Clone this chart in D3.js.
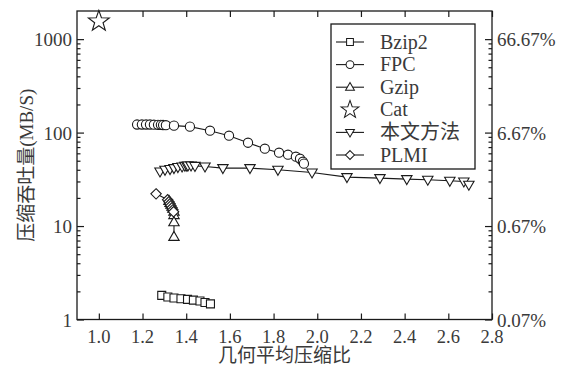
<!DOCTYPE html>
<html><head><meta charset="utf-8">
<script src="https://cdn.jsdelivr.net/npm/d3@7"></script>
<style>body{margin:0;background:#fff}svg{display:block}</style>
</head><body><svg id="c" width="569" height="366"></svg>
<script>
// ---- data ----
const xTickValues = [1.0,1.2,1.4,1.6,1.8,2.0,2.2,2.4,2.6,2.8];
const xTickLabels = ["1.0","1.2","1.4","1.6","1.8","2.0","2.2","2.4","2.6","2.8"];
const yTickValues = [1,10,100,1000];
const yTickLabels = ["1","10","100","1000"];
const rightTickLabels = ["0.07%","0.67%","6.67%","66.67%"];
const seriesNames = ["Bzip2","FPC","Gzip","Cat","本文方法","PLMI"];

const bzip2 = [[1.288,1.81],[1.316,1.74],[1.344,1.70],[1.376,1.67],[1.406,1.64],[1.433,1.61],[1.463,1.58],[1.486,1.52],[1.511,1.47]];
const fpc = [[1.175,122],[1.197,122],[1.216,122],[1.234,122],[1.252,121.5],[1.271,121],[1.284,121],[1.294,120.5],[1.307,120],[1.344,118.6],[1.417,115.7],[1.509,104.8],[1.596,92.6],[1.683,77.9],[1.760,67.2],[1.825,60.9],[1.866,58],[1.902,55.2],[1.921,52.5],[1.934,48.8],[1.939,46.5]];
const gzip = [[1.321,18.6],[1.326,17.7],[1.330,16.9],[1.335,16.1],[1.339,15.3],[1.344,14.2],[1.344,13.1],[1.344,11.0],[1.344,7.65]];
const cat = [[1.0,1550]];
const ours = [[1.28,38.4],[1.303,40.0],[1.326,40.7],[1.344,41.7],[1.362,42.8],[1.381,43.4],[1.394,44.2],[1.403,44.2],[1.408,44.5],[1.422,44.5],[1.44,44.0],[1.486,43.4],[1.568,41.7],[1.692,41.7],[1.82,40.0],[1.976,37.4],[2.136,33.4],[2.287,32.6],[2.41,31.8],[2.506,31.3],[2.607,30.5],[2.671,30.0],[2.694,27.7]];
const plmi = [[1.262,22.1],[1.315,19.1],[1.321,18.2],[1.326,17.3],[1.330,16.5],[1.335,15.7],[1.339,14.9],[1.342,14.2]];

// ---- layout ----
const L=77, R=492, T=11, B=319.5;
const svg = d3.select("#c");
const x = d3.scaleLinear().domain([0.9,2.8]).range([L,R]);
const y = d3.scaleLog().domain([1,2000]).range([B,T]);
const ink = "#1a1a1a", txt = "#3a3a3a";
const font = "'Liberation Serif','Noto Sans CJK SC',serif";

// frame
svg.append("rect").attr("x",L).attr("y",T).attr("width",R-L).attr("height",B-T)
  .attr("fill","none").attr("stroke",ink).attr("stroke-width",1.3);

// minor ticks
const minor = [];
for (let d=1; d<=1000; d*=10) for (let k=2;k<=9;k++){ const v=d*k; if (v<2000) minor.push(v); }

// left axis
svg.append("g").attr("transform",`translate(${L},0)`)
  .call(d3.axisRight(y).tickValues(yTickValues).tickSize(7).tickFormat(""));
svg.append("g").attr("transform",`translate(${L},0)`)
  .call(d3.axisRight(y).tickValues(minor).tickSize(3.5).tickFormat(""));
// right axis
svg.append("g").attr("transform",`translate(${R},0)`)
  .call(d3.axisLeft(y).tickValues(yTickValues).tickSize(7).tickFormat(""));
svg.append("g").attr("transform",`translate(${R},0)`)
  .call(d3.axisLeft(y).tickValues(minor).tickSize(3.5).tickFormat(""));
// bottom / top axes
svg.append("g").attr("transform",`translate(0,${B})`)
  .call(d3.axisTop(x).tickValues(xTickValues).tickSize(6).tickFormat(""));
svg.append("g").attr("transform",`translate(0,${T})`)
  .call(d3.axisBottom(x).tickValues(xTickValues).tickSize(6).tickFormat(""));
svg.selectAll(".domain").remove();
svg.selectAll(".tick line").attr("stroke",ink).attr("stroke-width",1.2);

// tick labels
svg.append("g").selectAll("text").data(yTickValues).join("text")
  .attr("x",L-5).attr("y",d=>y(d)+7).attr("text-anchor","end")
  .attr("font-family",font).attr("font-size",19).attr("fill",txt)
  .text((d,i)=>yTickLabels[i]);
svg.append("g").selectAll("text").data(yTickValues).join("text")
  .attr("x",R+5).attr("y",d=>y(d)+7).attr("text-anchor","start")
  .attr("font-family",font).attr("font-size",19).attr("fill",txt)
  .text((d,i)=>rightTickLabels[i]);
svg.append("g").selectAll("text").data(xTickValues).join("text")
  .attr("x",d=>x(d)).attr("y",B+23).attr("text-anchor","middle")
  .attr("font-family",font).attr("font-size",18.5).attr("fill",txt)
  .text((d,i)=>xTickLabels[i]);

// axis titles
svg.append("text").attr("x",(L+R)/2).attr("y",362).attr("text-anchor","middle")
  .attr("font-family",font).attr("font-size",19).attr("fill",txt).text("几何平均压缩比");
svg.append("text").attr("transform",`translate(33,${(T+B)/2}) rotate(-90)`)
  .attr("text-anchor","middle")
  .attr("font-family",font).attr("font-size",19).attr("fill",txt).text("压缩吞吐量(MB/S)");

// marker paths
function starPath(ro, ri){ let p=[]; for(let i=0;i<10;i++){ const r=i%2?ri:ro; const a=-Math.PI/2+i*Math.PI/5; p.push([r*Math.cos(a), r*Math.sin(a)]);} return "M"+p.map(q=>q.join(",")).join("L")+"Z"; }
const shapes = {
  square: "M-4,-4L4,-4L4,4L-4,4Z",
  circle: "M4.6,0A4.6,4.6 0 1,1 -4.6,0A4.6,4.6 0 1,1 4.6,0Z",
  up: "M0,-5.5L5.2,3.5L-5.2,3.5Z",
  down: "M0,5.5L5.2,-3.5L-5.2,-3.5Z",
  diamond: "M0,-5.2L5.2,0L0,5.2L-5.2,0Z",
  star: starPath(11,4.4)
};
const series = [
  {data:bzip2, shape:"square", line:true},
  {data:fpc, shape:"circle", line:true},
  {data:gzip, shape:"up", line:true},
  {data:cat, shape:"star", line:false},
  {data:ours, shape:"down", line:true},
  {data:plmi, shape:"diamond", line:true}
];
const line = d3.line().x(d=>x(d[0])).y(d=>y(d[1]));
series.forEach(s=>{
  const g = svg.append("g");
  if (s.line) g.append("path").attr("d",line(s.data)).attr("fill","none").attr("stroke",ink).attr("stroke-width",1.1);
  g.selectAll("path.m").data(s.data).join("path").attr("class","m")
    .attr("transform",d=>`translate(${x(d[0])},${y(d[1])})`)
    .attr("d",shapes[s.shape]).attr("fill","#fff").attr("stroke",ink).attr("stroke-width",1.1);
});

// legend
const lg = svg.append("g");
lg.append("rect").attr("x",331).attr("y",24).attr("width",144).attr("height",145)
  .attr("fill","#fff").attr("stroke",ink).attr("stroke-width",1.3);
series.forEach((s,i)=>{
  const cy = 42 + i*22.6;
  if (s.line) lg.append("line").attr("x1",336).attr("x2",364).attr("y1",cy).attr("y2",cy).attr("stroke",ink).attr("stroke-width",1.1);
  lg.append("path").attr("transform",`translate(350,${cy}) scale(0.85)`).attr("d",shapes[s.shape])
    .attr("fill","#fff").attr("stroke",ink).attr("stroke-width",1.2);
  lg.append("text").attr("x",380).attr("y",cy+6.5).attr("font-family",font).attr("font-size",20)
    .attr("fill",txt).text(seriesNames[i]);
});
</script></body></html>
